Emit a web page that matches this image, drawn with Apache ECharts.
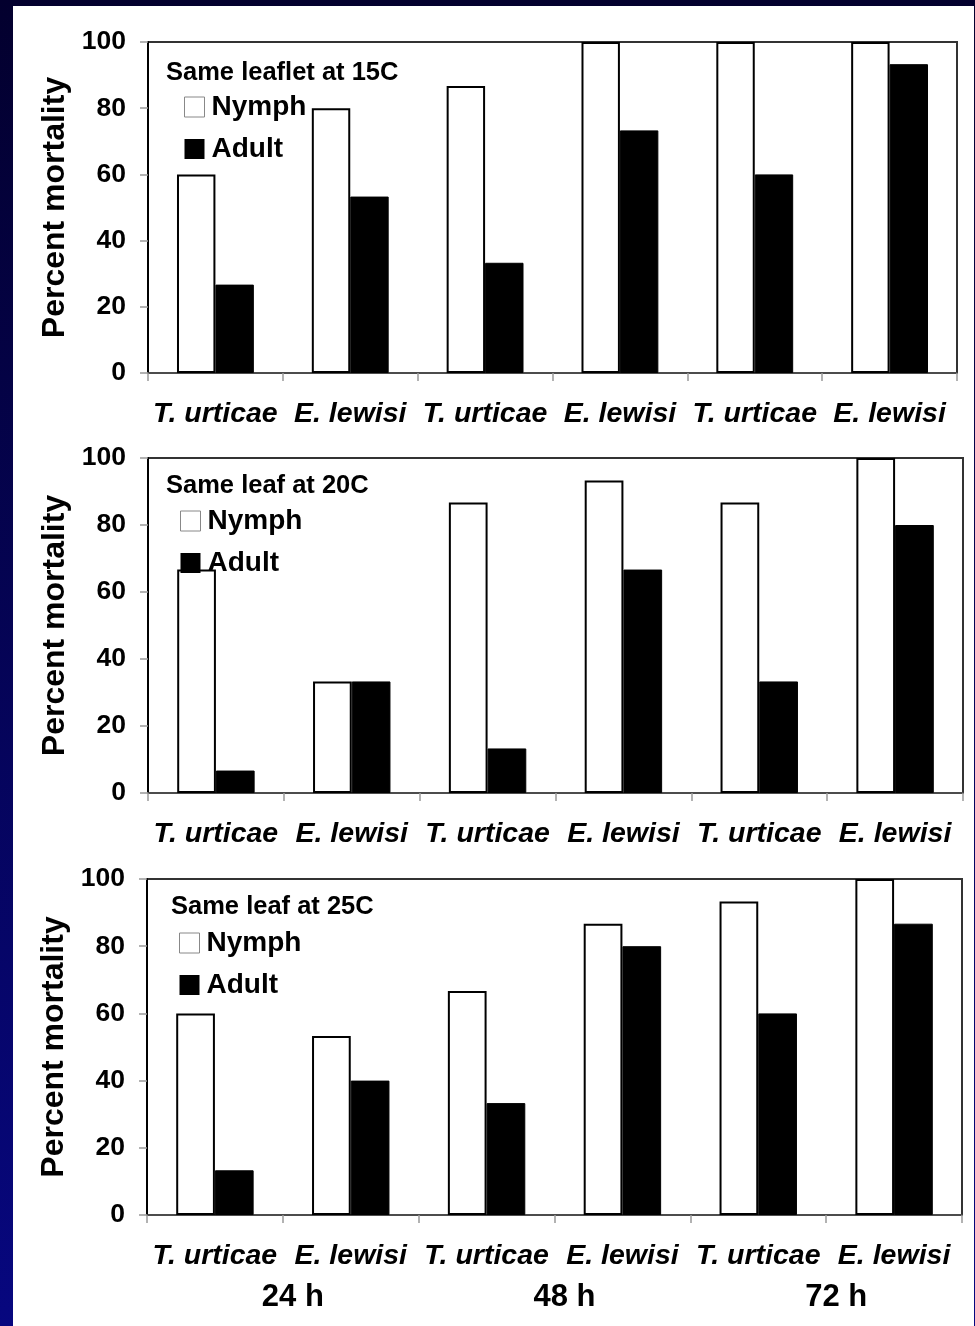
<!DOCTYPE html>
<html><head><meta charset="utf-8">
<script src="https://cdn.jsdelivr.net/npm/echarts@6/dist/echarts.min.js"></script>
<style>
html,body{margin:0;padding:0;width:975px;height:1326px;overflow:hidden;background:linear-gradient(to bottom,#03002e,#07077f);}
#paper{position:absolute;left:13px;top:6px;width:961px;height:1320px;background:#fff;}
#chart{position:absolute;left:0;top:0;width:975px;height:1326px;}
</style></head><body>
<div id="paper"></div><div id="chart"></div>
<script>
const categories = ['T. urticae','E. lewisi','T. urticae','E. lewisi','T. urticae','E. lewisi'];
const timeLabels = ['24 h','48 h','72 h'];
const panelTitles = ['Same leaflet at 15C','Same leaf at 20C','Same leaf at 25C'];
const seriesNames = ['Nymph','Adult'];
const nymph15 = [60, 80, 86.7, 100, 100, 100];
const adult15 = [26.7, 53.3, 33.3, 73.3, 60, 93.3];
const nymph20 = [66.7, 33.3, 86.7, 93.3, 86.7, 100];
const adult20 = [6.7, 33.3, 13.3, 66.7, 33.3, 80];
const nymph25 = [60, 53.3, 66.7, 86.7, 93.3, 100];
const adult25 = [13.3, 40, 33.3, 80, 60, 86.7];

const nymphData = [nymph15, nymph20, nymph25];
const adultData = [adult15, adult20, adult25];

const FONT = "'Liberation Sans', Arial, Helvetica, sans-serif";
const grids = [
  {left:148, top:42, width:809, height:331},
  {left:148, top:458, width:815, height:335},
  {left:147, top:879, width:815, height:336}
];
const titlePos = [{left:166, top:60},{left:166, top:473},{left:171, top:894}];
const legendPos = [{left:184, top:93},{left:180, top:507},{left:179, top:929}];

const option = {
  animation:false,
  textStyle:{fontFamily:FONT},
  title: panelTitles.map((t,i)=>({text:t, left:titlePos[i].left, top:titlePos[i].top, padding:0,
    textStyle:{fontFamily:FONT, fontSize:25.5, fontWeight:'bold', color:'#000'}})),
  legend: legendPos.map(p=>({left:p.left, top:p.top, orient:'vertical', padding:0,
    itemWidth:20, itemHeight:20, itemGap:14, icon:'rect', selectedMode:false,
    data:[{name:seriesNames[0], itemStyle:{color:'#fff', borderColor:'#888', borderWidth:1}},
          {name:seriesNames[1], itemStyle:{color:'#000', borderWidth:0}}],
    textStyle:{fontFamily:FONT, fontSize:28, fontWeight:'bold', color:'#000', lineHeight:28, padding:[0,0,0,2]}})),
  grid: grids.map(g=>Object.assign({show:true, borderColor:'#333', borderWidth:2, backgroundColor:'transparent', containLabel:false}, g)),
  xAxis: grids.map((g,i)=>({type:'category', gridIndex:i, data:categories,
    axisLine:{show:true, lineStyle:{color:'#555', width:1.5}},
    axisTick:{show:true, length:8, lineStyle:{color:'#999', width:1.5}},
    axisLabel:{interval:0, margin:27, fontFamily:FONT, fontSize:28.5, fontWeight:'bold', fontStyle:'italic', color:'#000'}
  })).concat([{type:'category', gridIndex:2, data:timeLabels, position:'bottom',
    axisLine:{show:false}, axisTick:{show:false}, splitLine:{show:false},
    axisLabel:{interval:0, margin:67, fontFamily:FONT, fontSize:31, fontWeight:'bold', color:'#000', padding:[0,0,0,20]}}]),
  yAxis: grids.map((g,i)=>({type:'value', gridIndex:i, min:0, max:100, interval:20,
    name:'Percent mortality', nameLocation:'middle', nameGap:71,
    nameTextStyle:{fontFamily:FONT, fontSize:32, fontWeight:'bold', color:'#000'},
    axisLine:{show:true, lineStyle:{color:'#000', width:2}},
    axisTick:{show:true, length:8, lineStyle:{color:'#999', width:1.5}},
    splitLine:{show:false},
    axisLabel:{margin:22, fontFamily:FONT, fontSize:26.5, fontWeight:'bold', color:'#000'}
  })),
  series: []
};
for (let i=0;i<3;i++){
  option.series.push({type:'bar', name:seriesNames[0], xAxisIndex:i, yAxisIndex:i, data:nymphData[i],
    barGap:'0%', barCategoryGap:'43%', itemStyle:{color:'#fff', borderColor:'#000', borderWidth:2}});
  option.series.push({type:'bar', name:seriesNames[1], xAxisIndex:i, yAxisIndex:i, data:adultData[i],
    barGap:'0%', barCategoryGap:'43%', itemStyle:{color:'#000', borderColor:'#000', borderWidth:1}});
}
const chart = echarts.init(document.getElementById('chart'), null, {renderer:'canvas'});
chart.setOption(option);
</script>
</body></html>
